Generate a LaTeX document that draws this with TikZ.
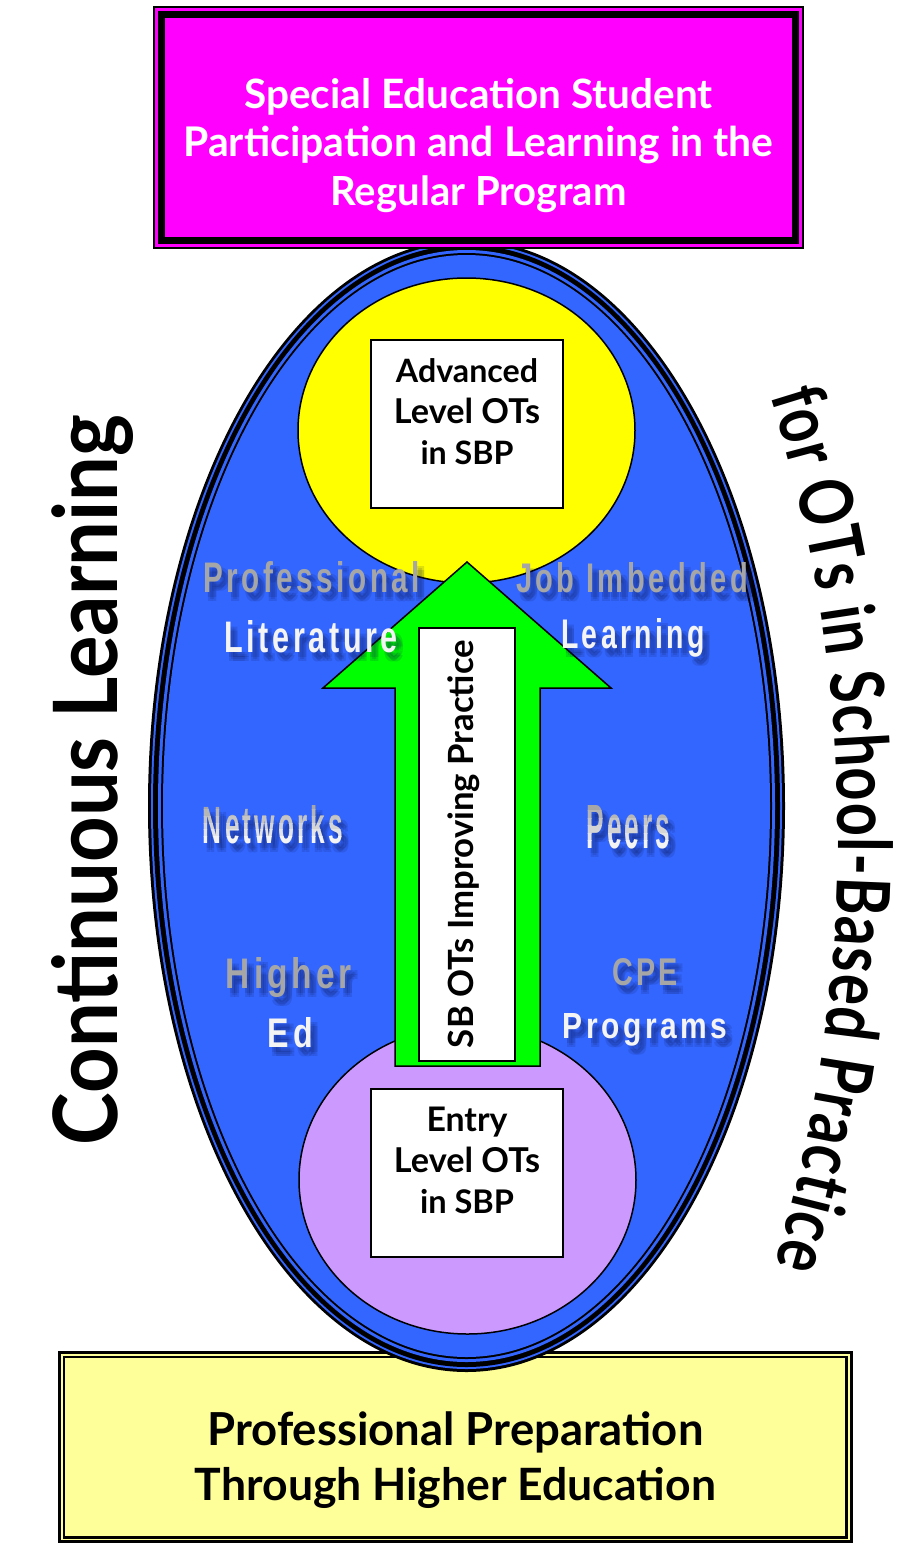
\documentclass[tikz,border=0pt]{standalone}
\usepackage{fontspec}
\usetikzlibrary{decorations.text}
\setmainfont{Lato}
\newfontfamily\comicfont{Lato}
\newfontfamily\arcfont{Lato}[FakeStretch=0.78]
\newfontfamily\wafont{Liberation Sans}[LetterSpace=12]

\definecolor{boxmagenta}{HTML}{FF00FF}
\definecolor{ovalblue}{HTML}{3366FF}
\definecolor{sunyellow}{HTML}{FFFF00}
\definecolor{lilac}{HTML}{CC99FF}
\definecolor{arrowgreen}{HTML}{00FF00}
\definecolor{paleyellow}{HTML}{FFFF99}
\definecolor{labgray}{HTML}{A6A6A6}
\definecolor{labwhite}{HTML}{F4F4F4}
\definecolor{shade}{HTML}{0A1450}

% fit a line of text to a given width (in pt)
\newcommand\fitw[2]{\resizebox{#1pt}{!}{#2}}
% word-art text squeezed into a w x h box
\newcommand\wabox[3]{\resizebox{#1pt}{#2pt}{\wafont\bfseries #3}}

% soft drop shadow under a word-art label: x, baseline y, w, h, text
\newcommand\washadow[5]{%
  \foreach \sx/\sy in {3/5,7/5,5/7,3/9,7/9}{%
    \node[walab, text=shade, opacity=0.13] at ({#1+\sx},{#2+\sy}) {\wabox{#3}{#4}{#5}};}}

% name, x, baseline y, width, height, colour, text
\newcommand\walabel[7]{%
  \washadow{#2}{#3}{#4}{#5}{#7}%
  \node[walab, text=#6] (#1) at (#2,#3) {\wabox{#4}{#5}{#7}};}

% same, with a grey-to-white vertical gradient
\newcommand\gradlabel[6]{%
  \washadow{#2}{#3}{#4}{#5}{#6}%
  \foreach \i in {0,...,5}{%
    \pgfmathtruncatemacro\pct{100-\i*20}%
    \begin{scope}
      \clip ({#2-#4},{#3-#5-2+\i*(#5+2)/6}) rectangle ({#2+#4},{#3-#5-2+(\i+1)*(#5+2)/6+(\i==5)*4});
      \node[walab, text=labgray!\pct!labwhite] (#1) at (#2,#3) {\wabox{#4}{#5}{#6}};
    \end{scope}}}

\begin{document}
\begin{tikzpicture}[x=1pt, y=-1pt,
  walab/.style={anchor=base, inner sep=0pt},
  titleline/.style={anchor=base, inner sep=0pt, text=white,
    font=\comicfont\bfseries\fontsize{36}{40}\selectfont},
  baseline text/.style={anchor=base, inner sep=0pt, text=black,
    font=\comicfont\bfseries\fontsize{30}{34}\selectfont},
  outline/.style={draw=black, line width=1.5pt}]

\useasboundingbox (0,0) rectangle (898,1543);
\fill[white] (0,0) rectangle (898,1543);

% ---------- base: professional preparation ----------
\fill[paleyellow] (59.5,1352.5) rectangle (851.5,1541.5);
\draw[line width=2.2pt] (59.5,1352.5) rectangle (851.5,1541.5);
\draw[line width=2.2pt] (64,1357) rectangle (846.5,1537.5);
\node[baseline text] (prep1) at (455.5,1445) {\fitw{496}{Professional Preparation}};
\node[baseline text] (prep2) at (455.5,1500) {\fitw{521}{Through Higher Education}};

% ---------- large oval with ringed border ----------
\fill[black]     (466.5,806) ellipse [x radius=318.5, y radius=566];
\fill[ovalblue]  (466.5,806) ellipse [x radius=315.5, y radius=563];
\fill[black]     (466.5,806) ellipse [x radius=313.5, y radius=561];
\fill[ovalblue]  (466.5,806) ellipse [x radius=308.5, y radius=556];
\fill[black]     (466.5,806) ellipse [x radius=305.5, y radius=553];
\fill[ovalblue]  (466.5,806) ellipse [x radius=303.5, y radius=551];

% ---------- levels ----------
\draw[outline, fill=sunyellow] (466.5,430.5) ellipse [x radius=168.5, y radius=152.5];
\draw[outline, fill=lilac] (467.5,1180) ellipse [x radius=168.5, y radius=154];

\draw[outline, fill=white] (371,340) rectangle (563,508);
\node[baseline text] (adv1) at (467,382) {\fitw{142}{Advanced}};
\node[baseline text] (adv2) at (467,423) {\fitw{146}{Level OTs}};
\node[baseline text] (adv3) at (467,464) {\fitw{93}{in SBP}};

\draw[outline, fill=white] (371,1089) rectangle (563,1257);
\node[baseline text] (ent1) at (467,1131) {\fitw{81}{Entry}};
\node[baseline text] (ent2) at (467,1172) {\fitw{146}{Level OTs}};
\node[baseline text] (ent3) at (467,1213) {\fitw{94}{in SBP}};

% ---------- upward arrow ----------
\draw[outline, line join=miter, fill=arrowgreen]
  (467,562) -- (611,688) -- (540,688) -- (540,1066) -- (395,1066)
  -- (395,688) -- (323,688) -- cycle;
\draw[outline, fill=white] (419,628) rectangle (515,1061);
\node[baseline text, rotate=90] (arrowtext) at (473,844)
  {\fitw{408}{SB OTs Improving Practice}};

% ---------- sources of learning ----------
\walabel{prof}{311.5}{592}{217}{31}{labgray}{Professional}
\walabel{lit}{311}{652}{174}{32}{labwhite}{Literature}
\walabel{job}{632}{592}{232}{30}{labgray}{Job Imbedded}
\walabel{learn}{633}{648}{144}{30}{labwhite}{Learning}
\gradlabel{netw}{273}{843}{140}{38}{Networks}
\gradlabel{peers}{628.5}{848}{84}{43}{Peers}
\walabel{higher}{289}{988}{126}{31}{labgray}{Higher}
\walabel{ed}{290.5}{1047}{45}{30}{labwhite}{Ed}
\walabel{cpe}{645}{985}{66}{27}{labgray}{CPE}
\walabel{progs}{645}{1038}{165}{25}{labwhite}{Programs}

% ---------- side captions ----------
\node[anchor=base, inner sep=0pt, rotate=90, font=\comicfont\bfseries\fontsize{80}{80}\selectfont]
  (contlearn) at (117,780) {\resizebox{730pt}{66pt}{Continuous Learning}};

\path[decorate, decoration={text along path, text align={fit to path},
  text={|\arcfont\bfseries\fontsize{74}{74}\selectfont|for OTs in School-Based Practice}}]
  (770,395) .. controls (860,680) and (860,980) .. (775,1265);

% ---------- goal: student participation ----------
\draw[black, line width=1.2pt, fill=boxmagenta] (154,7) rectangle (803,248);
\draw[black, line width=7pt] (161.5,14.5) rectangle (795.5,240.5);
\node[titleline] (goal1) at (478.5,108) {\fitw{468}{Special Education Student}};
\node[titleline] (goal2) at (478.5,156.5) {\fitw{590}{Participation and Learning in the}};
\node[titleline] (goal3) at (478.5,205) {\fitw{296}{Regular Program}};

\end{tikzpicture}
\end{document}
